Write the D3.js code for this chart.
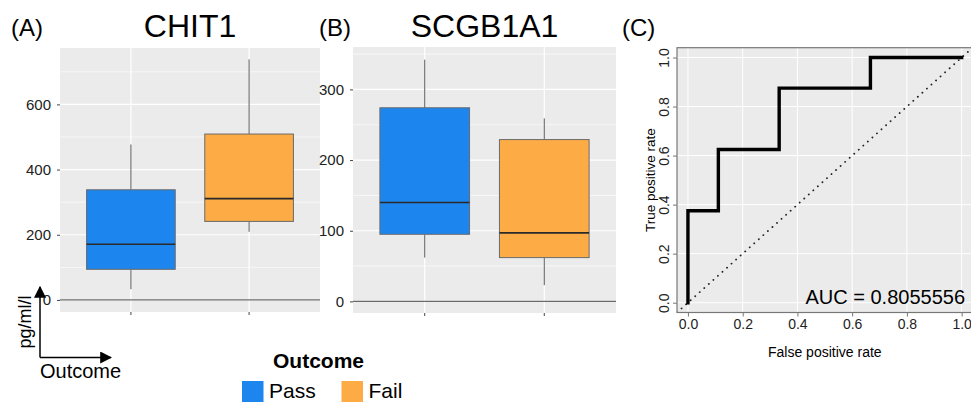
<!DOCTYPE html>
<html>
<head>
<meta charset="utf-8">
<script src="https://cdn.jsdelivr.net/npm/d3@7"></script>
<style>
  body { margin: 0; background: #fff; }
  text { font-family: "Liberation Sans", Arial, sans-serif; }
</style>
</head>
<body>
<svg width="971" height="402"></svg>
<script>
// data
const outcomes = ["Pass", "Fail"];
const outcomeColors = ["#1c86ee", "#fcab45"];

// [lower whisker, Q1, median, Q3, upper whisker]
const chit1Stats = [[33, 94, 171, 338, 477], [209, 241, 311, 509, 738]];
const scgbStats = [[62, 95, 140, 274, 342], [23, 62, 97, 229, 259]];

const chit1Ticks = [0, 200, 400, 600];
const scgbTicks = [0, 100, 200, 300];

const rocFpr = [0, 0, 0.1111, 0.1111, 0.3333, 0.3333, 0.6667, 0.6667, 1];
const rocTpr = [0, 0.375, 0.375, 0.625, 0.625, 0.875, 0.875, 1, 1];
const rocTicks = [0, 0.2, 0.4, 0.6, 0.8, 1.0];
const aucLabel = "AUC = 0.8055556";

const svg = d3.select("svg");
const defs = svg.append("defs");
const bgColor = "#ebebeb";
const font = "Liberation Sans, Arial, sans-serif";

function boxPanel(opts) {
    const g = svg.append("g");
    const y = d3.scaleLinear().domain(opts.domain).range([opts.bottom, opts.top]);
    // ggplot discrete axis: 0.6 units of padding on each side of 2 categories
    const x = d3.scalePoint().domain(outcomes).range([opts.left, opts.right]).padding(0.6);
    const unit = (opts.right - opts.left) / 2.2;
    const bw = unit * 0.75;

    g.append("rect").attr("x", opts.left).attr("y", opts.top)
        .attr("width", opts.right - opts.left).attr("height", opts.bottom - opts.top)
        .attr("fill", bgColor);

    // minor grid halfway between major ticks
    const step = opts.ticks[1] - opts.ticks[0];
    const minor = opts.ticks.map(t => t + step / 2).filter(v => y(v) > opts.top);
    g.selectAll(".minor").data(minor).join("line")
        .attr("x1", opts.left).attr("x2", opts.right)
        .attr("y1", d => y(d)).attr("y2", d => y(d))
        .attr("stroke", "#fff").attr("stroke-width", 0.6);
    g.selectAll(".major").data(opts.ticks).join("line")
        .attr("x1", opts.left).attr("x2", opts.right)
        .attr("y1", d => y(d)).attr("y2", d => y(d))
        .attr("stroke", "#fff").attr("stroke-width", 1.2);
    g.selectAll(".vgrid").data(outcomes).join("line")
        .attr("x1", x).attr("x2", x).attr("y1", opts.top).attr("y2", opts.bottom)
        .attr("stroke", "#fff").attr("stroke-width", 1.2);

    // zero line
    g.append("line").attr("x1", opts.left).attr("x2", opts.right)
        .attr("y1", y(0)).attr("y2", y(0)).attr("stroke", "#6b6b6b").attr("stroke-width", 1.2);

    // boxes
    opts.stats.forEach((s, i) => {
        const c = x(outcomes[i]);
        g.append("line").attr("x1", c).attr("x2", c).attr("y1", y(s[0])).attr("y2", y(s[1]))
            .attr("stroke", "#5a5a5a").attr("stroke-width", 1);
        g.append("line").attr("x1", c).attr("x2", c).attr("y1", y(s[3])).attr("y2", y(s[4]))
            .attr("stroke", "#5a5a5a").attr("stroke-width", 1);
        g.append("rect").attr("x", c - bw / 2).attr("y", y(s[3]))
            .attr("width", bw).attr("height", y(s[1]) - y(s[3]))
            .attr("fill", outcomeColors[i]).attr("stroke", "#6a6a6a").attr("stroke-width", 1);
        g.append("line").attr("x1", c - bw / 2).attr("x2", c + bw / 2)
            .attr("y1", y(s[2])).attr("y2", y(s[2]))
            .attr("stroke", "#2a2a2a").attr("stroke-width", 1.6);
    });

    // y axis
    const yg = g.append("g").attr("transform", `translate(${opts.left},0)`)
        .call(d3.axisLeft(y).tickValues(opts.ticks).tickSize(3).tickPadding(6));
    yg.select(".domain").remove();
    yg.selectAll(".tick line").attr("stroke", "#444");
    yg.selectAll("text").attr("font-size", 15).attr("fill", "#222").style("font-family", font);

    // x ticks (no labels)
    g.selectAll(".xt").data(outcomes).join("line")
        .attr("x1", x).attr("x2", x).attr("y1", opts.bottom).attr("y2", opts.bottom + 3)
        .attr("stroke", "#444");

    g.append("text").attr("x", (opts.left + opts.right) / 2).attr("y", 37)
        .attr("text-anchor", "middle").attr("font-size", 32).attr("fill", "#000")
        .text(opts.title);
    g.append("text").attr("x", opts.tagX).attr("y", 36)
        .attr("font-size", 24).attr("fill", "#000").text(opts.tag);
}

boxPanel({ left: 60, right: 320, top: 48, bottom: 312, domain: [-37, 773],
    ticks: chit1Ticks, stats: chit1Stats, title: "CHIT1", tag: "(A)", tagX: 11 });
boxPanel({ left: 353, right: 616, top: 47, bottom: 313, domain: [-16.4, 360],
    ticks: scgbTicks, stats: scgbStats, title: "SCGB1A1", tag: "(B)", tagX: 319 });

// axis arrows
defs.append("marker").attr("id", "arr").attr("viewBox", "0 -5 10 10")
    .attr("refX", 9).attr("refY", 0).attr("markerWidth", 12).attr("markerHeight", 12)
    .attr("orient", "auto").attr("markerUnits", "userSpaceOnUse")
    .append("path").attr("d", "M0,-5L10,0L0,5Z").attr("fill", "#000");
svg.append("line").attr("x1", 40).attr("y1", 357.5).attr("x2", 40).attr("y2", 287)
    .attr("stroke", "#000").attr("stroke-width", 1.5).attr("marker-end", "url(#arr)");
svg.append("line").attr("x1", 40).attr("y1", 357.5).attr("x2", 111).attr("y2", 357.5)
    .attr("stroke", "#000").attr("stroke-width", 1.5).attr("marker-end", "url(#arr)");
svg.append("text").attr("transform", "translate(31,322) rotate(-90)")
    .attr("text-anchor", "middle").attr("font-size", 18).text("pg/ml/l");
svg.append("text").attr("x", 40).attr("y", 378).attr("font-size", 20).text("Outcome");

// legend
svg.append("text").attr("x", 273).attr("y", 368).attr("font-size", 21)
    .attr("font-weight", "bold").text("Outcome");
const leg = svg.append("g").selectAll("g").data(outcomes).join("g")
    .attr("transform", (d, i) => `translate(${[242, 341.5][i]},381)`);
leg.append("rect").attr("width", 21.5).attr("height", 24)
    .attr("fill", (d, i) => outcomeColors[i]);
leg.append("text").attr("x", 27).attr("y", 16.5).attr("font-size", 21).text(d => d);

// ROC panel
const rl = 677, rr = 972.6, rt = 47.7, rb = 312.5;
const rx = d3.scaleLinear().domain([-0.04, 1.04]).range([rl, rr]);
const ry = d3.scaleLinear().domain([-0.04, 1.04]).range([rb, rt]);
const rg = svg.append("g");
defs.append("clipPath").attr("id", "rclip").append("rect")
    .attr("x", rl).attr("y", rt).attr("width", rr - rl).attr("height", rb - rt);
rg.append("rect").attr("x", rl).attr("y", rt).attr("width", rr - rl).attr("height", rb - rt)
    .attr("fill", bgColor);
rg.selectAll(".gx").data(rocTicks).join("line")
    .attr("x1", d => rx(d)).attr("x2", d => rx(d)).attr("y1", rt).attr("y2", rb)
    .attr("stroke", "#fff").attr("stroke-width", 1);
rg.selectAll(".gy").data(rocTicks).join("line")
    .attr("y1", d => ry(d)).attr("y2", d => ry(d)).attr("x1", rl).attr("x2", rr)
    .attr("stroke", "#fff").attr("stroke-width", 1);
rg.append("line").attr("clip-path", "url(#rclip)")
    .attr("x1", rx(-0.04)).attr("y1", ry(-0.04)).attr("x2", rx(1.04)).attr("y2", ry(1.04))
    .attr("stroke", "#222").attr("stroke-width", 1.8)
    .attr("stroke-dasharray", "0.1,6").attr("stroke-linecap", "round");
rg.append("path")
    .datum(rocFpr.map((f, i) => [f, rocTpr[i]]))
    .attr("d", d3.line().x(d => rx(d[0])).y(d => ry(d[1])))
    .attr("fill", "none").attr("stroke", "#000").attr("stroke-width", 3.4)
    .attr("stroke-linejoin", "miter").attr("stroke-linecap", "square");
rg.append("rect").attr("x", rl).attr("y", rt).attr("width", rr - rl).attr("height", rb - rt)
    .attr("fill", "none").attr("stroke", "#777").attr("stroke-width", 1.2);

const xa = rg.append("g").attr("transform", `translate(0,${rb})`)
    .call(d3.axisBottom(rx).tickValues(rocTicks).tickFormat(d3.format(".1f")).tickSize(4).tickPadding(3));
xa.select(".domain").remove();
xa.selectAll("text").attr("font-size", 14).attr("fill", "#222").style("font-family", font);
xa.selectAll(".tick line").attr("stroke", "#777");
const ya2 = rg.append("g").attr("transform", `translate(${rl},0)`)
    .call(d3.axisLeft(ry).tickValues(rocTicks).tickFormat(d3.format(".1f")).tickSize(4).tickPadding(3));
ya2.select(".domain").remove();
ya2.selectAll(".tick line").attr("stroke", "#777");
ya2.selectAll("text").attr("font-size", 14).attr("fill", "#222").style("font-family", font)
    .attr("text-anchor", "middle").attr("x", null).attr("dy", null)
    .attr("transform", "translate(-8,0) rotate(-90)");

rg.append("text").attr("x", rx(0.5)).attr("y", 357).attr("text-anchor", "middle")
    .attr("font-size", 14).text("False positive rate");
rg.append("text").attr("transform", `translate(655,${(rt + rb) / 2}) rotate(-90)`)
    .attr("text-anchor", "middle").attr("font-size", 13.5).text("True positive rate");
rg.append("text").attr("x", 965).attr("y", 304).attr("text-anchor", "end")
    .attr("font-size", 20).text(aucLabel);
rg.append("text").attr("x", 622).attr("y", 36).attr("font-size", 24).text("(C)");
</script>
</body>
</html>
